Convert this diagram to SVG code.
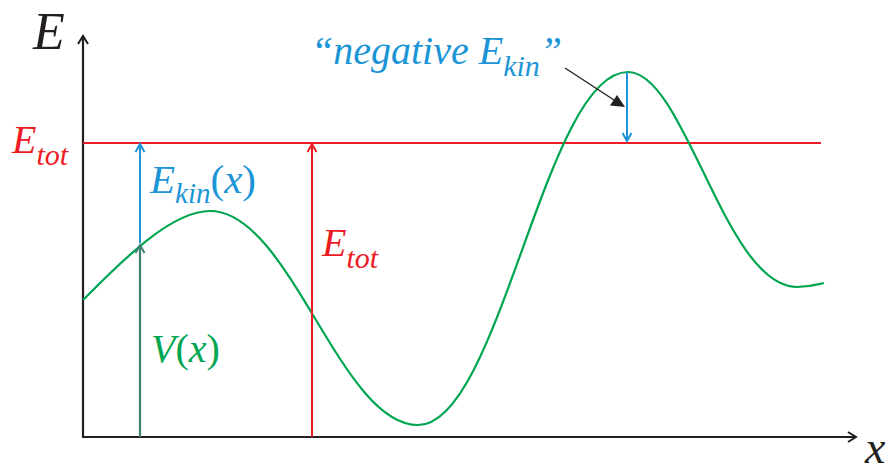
<svg xmlns="http://www.w3.org/2000/svg" width="893" height="472" viewBox="0 0 893 472">
<style>
text{font-family:"Liberation Serif","Times New Roman",serif;font-style:italic}
.ax{stroke:#231f20;stroke-width:2.2;fill:none}
.red{stroke:#ed1c24;stroke-width:2;fill:none}
.blue{stroke:#1b95d6;stroke-width:2;fill:none}
.teal{stroke:#3b8071;stroke-width:2.2;fill:none}
.curve{stroke:#00a551;stroke-width:2.2;fill:none}
.hd{fill:none;stroke-width:2;stroke-linecap:butt;stroke-linejoin:miter}
</style>
<rect width="893" height="472" fill="#fff"/>
<g id="axes">
<path class="ax" d="M83,437 V36"/>
<path class="ax hd" d="M78,44 L83,36 L88,44"/>
<path class="ax" d="M82,437 H856"/>
<path class="ax hd" d="M848,432 L856,437 L848,442"/>
<text x="33" y="49" font-size="52" fill="#231f20">E</text>
<text x="865" y="463" font-size="46" fill="#231f20">x</text>
</g>
<g id="etot-line">
<path class="red" d="M83,143 H821"/>
<text x="12" y="153" font-size="40" fill="#ed1c24">E<tspan font-size="30" dy="12">tot</tspan></text>
</g>
<g id="potential">
<path class="curve" d="M83,300 C120,263 170,211 210,211 C290,211 340,425 418,425 C500,425 545,72 628,72 C685,72 725,287 797,287 C810,287 815,285 824,283"/>
<text x="151" y="362" font-size="40" fill="#00a551">V<tspan font-style="normal">(</tspan>x<tspan font-style="normal">)</tspan></text>
</g>
<g id="connectors">
<path class="teal" d="M140,437 V245"/>
<path class="teal hd" d="M135.5,253 L140,245 L144.5,253"/>
<path class="blue" d="M140,243 V144"/>
<path class="blue hd" d="M135.5,152 L140,144 L144.5,152"/>
<path class="red" d="M312,437 V144"/>
<path class="red hd" d="M307.5,152 L312,144 L316.5,152"/>
<path class="blue" d="M627,72 V141"/>
<path class="blue hd" d="M622.5,133 L627,141 L631.5,133"/>
<path stroke="#231f20" stroke-width="1.4" d="M565,68 L614,100"/>
<path fill="#231f20" d="M625,107 L610,105.5 L617,95 Z"/>
</g>
<g id="ekin-label">
<text x="150" y="193" font-size="41" fill="#1b95d6">E<tspan font-size="29" dy="10">kin</tspan><tspan dy="-10" font-style="normal">(</tspan>x<tspan font-style="normal">)</tspan></text>
</g>
<g id="etot-label">
<text x="322" y="256" font-size="40" fill="#ed1c24">E<tspan font-size="30" dy="12">tot</tspan></text>
</g>
<g id="negative-label">
<text x="311" y="64" font-size="40" fill="#1b95d6">“negative E<tspan font-size="30" dy="12">kin</tspan><tspan dy="-12">”</tspan></text>
</g>
</svg>
